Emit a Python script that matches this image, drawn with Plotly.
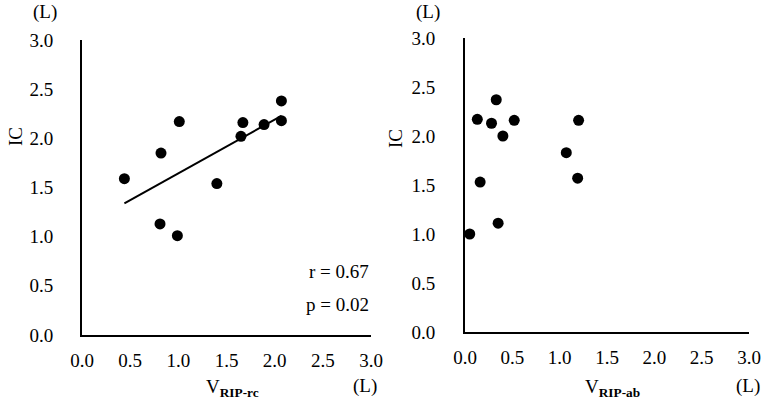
import numpy as np
import plotly.graph_objects as go

# IC vs V_RIP-rc (left panel)
rc_x = [0.44, 0.82, 1.01, 1.40, 1.67, 1.65, 1.89, 2.07, 2.07, 0.81, 0.99]
rc_ic = [1.59, 1.85, 2.17, 1.54, 2.16, 2.02, 2.14, 2.38, 2.18, 1.13, 1.01]

# IC vs V_RIP-ab (right panel)
ab_x = [0.13, 0.33, 0.28, 0.52, 0.40, 1.20, 1.07, 1.19, 0.16, 0.05, 0.35]
ab_ic = [2.17, 2.37, 2.13, 2.16, 2.00, 2.16, 1.83, 1.57, 1.53, 1.00, 1.11]

tick_vals = [0, 0.5, 1.0, 1.5, 2.0, 2.5, 3.0]
tick_text = ["0.0", "0.5", "1.0", "1.5", "2.0", "2.5", "3.0"]
stats_text = ["r = 0.67", "p = 0.02"]

W, H = 764, 400
FONT = "Liberation Serif, Times New Roman, serif"


def px(x):
    return x / W


def py(y):
    return 1 - y / H


fig = go.Figure()

marker = dict(size=11, color="black")
fig.add_trace(go.Scatter(x=rc_x, y=rc_ic, mode="markers", marker=marker,
                         xaxis="x", yaxis="y", showlegend=False))

# least-squares line over the data range
slope, icpt = np.polyfit(rc_x, rc_ic, 1)
lx = np.array([min(rc_x), max(rc_x)])
fig.add_trace(go.Scatter(x=lx, y=slope * lx + icpt, mode="lines",
                         line=dict(color="black", width=2),
                         xaxis="x", yaxis="y", showlegend=False))

fig.add_trace(go.Scatter(x=ab_x, y=ab_ic, mode="markers", marker=marker,
                         xaxis="x2", yaxis="y2", showlegend=False))

axis_common = dict(
    range=[0, 3], tickvals=tick_vals, ticktext=tick_text, automargin=False,
    showgrid=False, zeroline=False, showline=True, linecolor="black",
    linewidth=2, ticks="", tickfont=dict(family=FONT, size=19, color="black"),
)

fig.update_layout(
    width=W, height=H,
    margin=dict(l=0, r=0, t=0, b=0),
    paper_bgcolor="white", plot_bgcolor="white",
    xaxis=dict(domain=[px(82), px(371)], anchor="y", ticklabelstandoff=7, **axis_common),
    yaxis=dict(domain=[py(335), py(40)], anchor="x", ticklabelstandoff=23, **axis_common),
    xaxis2=dict(domain=[px(465), px(749)], anchor="y2", ticklabelstandoff=7, **axis_common),
    yaxis2=dict(domain=[py(332), py(38)], anchor="x2", ticklabelstandoff=24, **axis_common),
)

ann_font = dict(family=FONT, size=19, color="black")


def note(x, y, text, xanchor="center", **kw):
    fig.add_annotation(x=px(x), y=py(y), xref="paper", yref="paper", text=text,
                       showarrow=False, font=ann_font, xanchor=xanchor,
                       yanchor="middle", **kw)


# unit labels and axis titles
for xl, xu, xt, xname in [(45, 365, 232, "V<sub><b>RIP-rc</b></sub>"),
                          (428, 748, 612, "V<sub><b>RIP-ab</b></sub>")]:
    note(xl, 12, "(L)")
    note(xu, 386, "(L)")
    note(xt, 388, xname)

note(15, 137, "IC", textangle=-90)
note(396, 139, "IC", textangle=-90)

note(371, 271, stats_text[0], xanchor="right")
note(371, 304, stats_text[1], xanchor="right")

# drop the default page margin so the figure sits at the window's corner
fig.write_html("out.html", config={"displayModeBar": False},
               post_script="document.body.style.margin='0';")
